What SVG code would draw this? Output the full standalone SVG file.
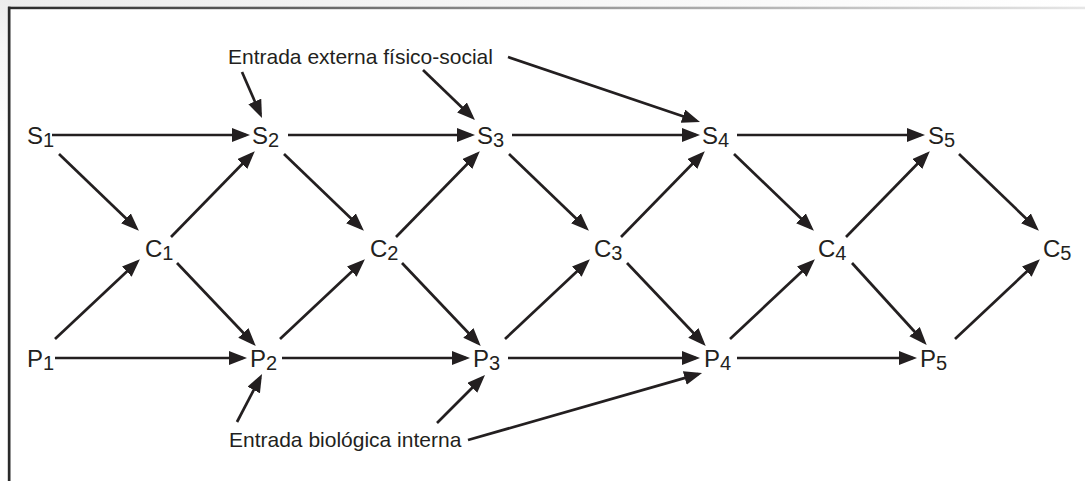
<svg xmlns="http://www.w3.org/2000/svg" width="1085" height="481" viewBox="0 0 1085 481">
  <defs>
    <linearGradient id="topLine" x1="0" y1="0" x2="1" y2="0">
      <stop offset="0" stop-color="#2a2a2a"/>
      <stop offset="0.45" stop-color="#8a8a8a"/>
      <stop offset="0.75" stop-color="#bdbdbd"/>
      <stop offset="1" stop-color="#e6e6e6"/>
    </linearGradient>
    <linearGradient id="topBand" x1="0" y1="0" x2="1" y2="0">
      <stop offset="0" stop-color="#ececec"/>
      <stop offset="0.6" stop-color="#f8f8f8"/>
      <stop offset="1" stop-color="#ffffff"/>
    </linearGradient>
    <linearGradient id="leftBand" x1="0" y1="0" x2="0" y2="1">
      <stop offset="0" stop-color="#ececec"/>
      <stop offset="0.1" stop-color="#f6f6f6"/>
      <stop offset="0.3" stop-color="#ffffff"/>
    </linearGradient>
    <marker id="ah" markerUnits="userSpaceOnUse" markerWidth="19" markerHeight="15" refX="14" refY="7" orient="auto">
      <path d="M0,0 L18,7 L0,14 Z" fill="#231f20"/>
    </marker>
    <style>
      .lbl { font-family: "Liberation Sans", Arial, sans-serif; font-size: 21px; fill: #231f20; }
      .node { font-family: "Liberation Sans", Arial, sans-serif; font-size: 24px; fill: #231f20; }
      .sub { font-size: 20px; }
      .c line { stroke: #231f20; stroke-width: 2.7; marker-end: url(#ah); }
    </style>
  </defs>
  <rect x="0" y="0" width="1085" height="481" fill="#ffffff"/>
  <rect x="0" y="0" width="1085" height="7" fill="url(#topBand)"/>
  <rect x="0" y="0" width="8" height="481" fill="url(#leftBand)"/>
  <g id="frame">
    <rect x="8" y="6.7" width="1077" height="2.5" fill="url(#topLine)"/>
    <rect x="7.8" y="6.7" width="2.7" height="474.3" fill="#2a2a2a"/>
  </g>

  <g id="connectors" class="c">
    <!-- S row -->
    <line x1="52" y1="135" x2="246" y2="135"/>
    <line x1="288" y1="135" x2="471" y2="135"/>
    <line x1="512" y1="135" x2="696" y2="135"/>
    <line x1="737" y1="135" x2="921" y2="135"/>
    <!-- P row -->
    <line x1="55" y1="358" x2="243" y2="358"/>
    <line x1="282" y1="358" x2="466" y2="358"/>
    <line x1="508" y1="358" x2="696" y2="358"/>
    <line x1="737" y1="358" x2="913" y2="358"/>
    <!-- S_i -> C_i -->
    <line x1="59" y1="154" x2="136" y2="228"/>
    <line x1="284" y1="154" x2="361" y2="228"/>
    <line x1="509" y1="154" x2="586" y2="228"/>
    <line x1="734" y1="154" x2="811" y2="228"/>
    <line x1="959" y1="154" x2="1036" y2="228"/>
    <!-- P_i -> C_i -->
    <line x1="55" y1="339" x2="137" y2="262"/>
    <line x1="280" y1="339" x2="362" y2="262"/>
    <line x1="505" y1="339" x2="587" y2="262"/>
    <line x1="730" y1="339" x2="812" y2="262"/>
    <line x1="955" y1="339" x2="1037" y2="262"/>
    <!-- C_i -> S_i+1 -->
    <line x1="171" y1="237" x2="252" y2="154"/>
    <line x1="396" y1="237" x2="477" y2="154"/>
    <line x1="621" y1="237" x2="702" y2="154"/>
    <line x1="846" y1="237" x2="927" y2="154"/>
    <!-- C_i -> P_i+1 -->
    <line x1="177" y1="263" x2="253" y2="343"/>
    <line x1="402" y1="263" x2="478" y2="343"/>
    <line x1="627" y1="263" x2="703" y2="343"/>
    <line x1="852" y1="263" x2="924" y2="342"/>
    <!-- external physical-social input -->
    <line x1="242" y1="72" x2="260.4" y2="114.3"/>
    <line x1="423" y1="70" x2="472.1" y2="117.2"/>
    <line x1="508" y1="57" x2="696.2" y2="120.7"/>
    <!-- internal biological input -->
    <line x1="237" y1="422" x2="260.2" y2="377.6"/>
    <line x1="437" y1="423" x2="482.2" y2="377.8"/>
    <line x1="468" y1="440" x2="698.2" y2="374.1"/>
  </g>

  <g id="label-externa"><text class="lbl" x="228" y="64">Entrada externa físico-social</text></g>
  <g id="label-biologica"><text class="lbl" x="229" y="447">Entrada biológica interna</text></g>

  <g id="S1"><text class="node" x="27" y="144">S<tspan class="sub" dy="3">1</tspan></text></g>
  <g id="S2"><text class="node" x="252" y="144">S<tspan class="sub" dy="3">2</tspan></text></g>
  <g id="S3"><text class="node" x="477" y="144">S<tspan class="sub" dy="3">3</tspan></text></g>
  <g id="S4"><text class="node" x="702" y="144">S<tspan class="sub" dy="3">4</tspan></text></g>
  <g id="S5"><text class="node" x="928" y="144">S<tspan class="sub" dy="3">5</tspan></text></g>

  <g id="C1"><text class="node" x="145" y="257">C<tspan class="sub" dy="3">1</tspan></text></g>
  <g id="C2"><text class="node" x="370" y="257">C<tspan class="sub" dy="3">2</tspan></text></g>
  <g id="C3"><text class="node" x="594" y="257">C<tspan class="sub" dy="3">3</tspan></text></g>
  <g id="C4"><text class="node" x="818" y="257">C<tspan class="sub" dy="3">4</tspan></text></g>
  <g id="C5"><text class="node" x="1043" y="257">C<tspan class="sub" dy="3">5</tspan></text></g>

  <g id="P1"><text class="node" x="27" y="367">P<tspan class="sub" dy="3">1</tspan></text></g>
  <g id="P2"><text class="node" x="250" y="367">P<tspan class="sub" dy="3">2</tspan></text></g>
  <g id="P3"><text class="node" x="473" y="367">P<tspan class="sub" dy="3">3</tspan></text></g>
  <g id="P4"><text class="node" x="704" y="367">P<tspan class="sub" dy="3">4</tspan></text></g>
  <g id="P5"><text class="node" x="920" y="367">P<tspan class="sub" dy="3">5</tspan></text></g>
</svg>
